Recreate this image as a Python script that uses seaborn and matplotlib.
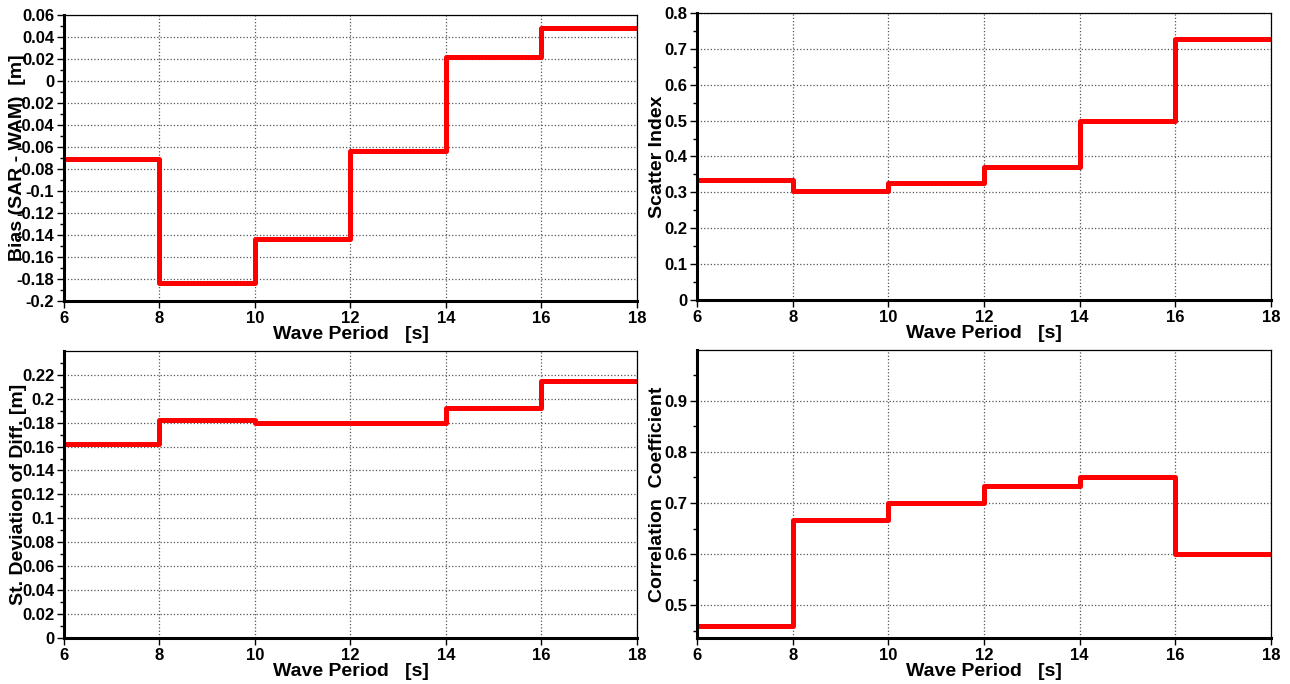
import matplotlib
matplotlib.use("Agg")
import matplotlib.pyplot as plt
import seaborn as sns
import pandas as pd
from matplotlib.ticker import MultipleLocator

sns.set_style("white")
plt.rcParams["font.family"] = ["Liberation Sans", "DejaVu Sans"]
plt.rcParams["font.weight"] = "bold"
plt.rcParams["text.color"] = "black"
plt.rcParams["axes.labelcolor"] = "black"
plt.rcParams["xtick.color"] = "black"
plt.rcParams["ytick.color"] = "black"

# limites das classes de periodo (s)
periodos = [6, 8, 10, 12, 14, 16, 18]

# valores por classe (o ultimo repetido para fechar o degrau em 18 s)
bias = [-0.071, -0.184, -0.144, -0.064, 0.022, 0.048, 0.048]
scatter_index = [0.335, 0.305, 0.325, 0.370, 0.500, 0.728, 0.728]
std_diff = [0.162, 0.182, 0.180, 0.180, 0.192, 0.215, 0.215]
correlacao = [0.460, 0.667, 0.700, 0.733, 0.750, 0.601, 0.601]

# (valores, rotulo, limites y, passo maior, passo menor, posicao, x do rotulo)
paineis = [
    (bias, "Bias (SAR - WAM)  [m]", (-0.2, 0.06), 0.02, 0.01, [0.0496, 0.5599, 0.4442, 0.4181], -0.066),
    (scatter_index, "Scatter Index", (0, 0.8), 0.1, 0.05, [0.5403, 0.5614, 0.4450, 0.4196], -0.054),
    (std_diff, "St. Deviation of Diff. [m]", (0, 0.2399), 0.02, 0.01, [0.0496, 0.0673, 0.4442, 0.4196], -0.064),
    (correlacao, "Correlation  Coefficient", (0.436, 0.999), 0.1, 0.05, [0.5403, 0.0673, 0.4450, 0.4210], -0.054),
]

fig = plt.figure(figsize=(12.9, 6.84), dpi=100)

for valores, rotulo, ylim, passo, passo_menor, pos, xrot in paineis:
    ax = fig.add_axes(pos)
    df = pd.DataFrame({"periodo": periodos, "valor": valores})
    sns.lineplot(data=df, x="periodo", y="valor", ax=ax, color="red",
                 linewidth=3.6, drawstyle="steps-post")
    ax.set_xlim(6, 18)
    ax.set_ylim(*ylim)
    ax.xaxis.set_major_locator(MultipleLocator(2))
    ax.yaxis.set_major_locator(MultipleLocator(passo))
    ax.yaxis.set_minor_locator(MultipleLocator(passo_menor))
    ax.yaxis.set_major_formatter(plt.FuncFormatter(lambda v, p: "{:g}".format(round(v, 4))))
    ax.grid(True, which="major", linestyle=":", color="#555555", linewidth=0.9)
    ax.tick_params(axis="both", which="major", direction="out", length=5, width=1,
                   labelsize=12, pad=2, bottom=True, left=True, colors="black")
    ax.tick_params(axis="y", which="minor", direction="out", length=3, width=1, left=True)
    for lab in ax.get_xticklabels() + ax.get_yticklabels():
        lab.set_fontweight("bold")
    for lado in ["left", "bottom"]:
        ax.spines[lado].set_linewidth(2.2)
        ax.spines[lado].set_color("black")
    for lado in ["top", "right"]:
        ax.spines[lado].set_linewidth(0.9)
        ax.spines[lado].set_color("black")
    ax.set_xlabel("Wave Period   [s]", fontsize=14, fontweight="bold", labelpad=0)
    ax.set_ylabel(rotulo, fontsize=14, fontweight="bold")
    ax.yaxis.set_label_coords(xrot, 0.5)

fig.savefig("out.png", dpi=100)
